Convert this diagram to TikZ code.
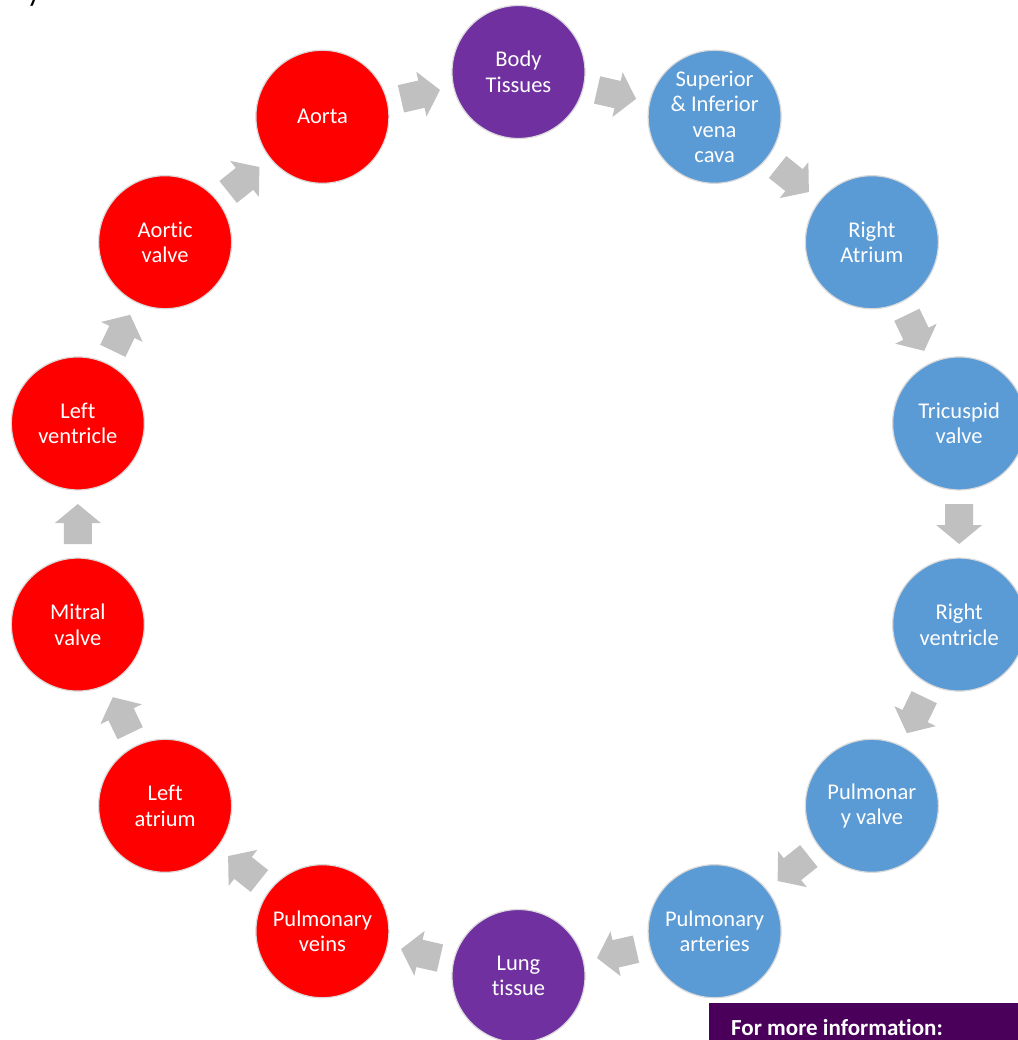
\documentclass[tikz,border=0pt]{standalone}
\usepackage{fontspec}
\setmainfont{Carlito}[Ligatures=NoCommon]
\usetikzlibrary{calc}
\definecolor{cpurple}{RGB}{112,48,160}
\definecolor{cblue}{RGB}{91,155,213}
\definecolor{cred}{RGB}{255,0,0}
\definecolor{carrow}{RGB}{192,192,192}
\definecolor{cbox}{RGB}{74,0,90}
\begin{document}
\begin{tikzpicture}[x=1pt,y=-1pt,
  stage/.style={circle, minimum size=133pt, inner sep=0pt, draw=black!15, line width=1.2pt,
    text=white, align=center, font=\fontsize{22.5}{25.5}\selectfont},
  blockarrow/.pic={\fill[carrow] (-20,-14) -- (1,-14) -- (1,-23) -- (20,0) -- (1,23) -- (1,14) -- (-20,14) -- cycle;}]
\useasboundingbox (0,0) rectangle (1017,1040);
\fill[white] (0,0) rectangle (1017,1040);
\coordinate (O) at (518.5,524);
\foreach \i/\col/\txt in {
  0/cpurple/{Body\\Tissues},
  1/cblue/{Superior\\\& Inferior\\vena\\cava},
  2/cblue/{Right\\Atrium},
  3/cblue/{Tricuspid\\valve},
  4/cblue/{Right\\ventricle},
  5/cblue/{Pulmonar\\y valve},
  6/cblue/{Pulmonary\\arteries},
  7/cpurple/{Lung\\tissue},
  8/cred/{Pulmonary\\veins},
  9/cred/{Left\\atrium},
  10/cred/{Mitral\\valve},
  11/cred/{Left\\ventricle},
  12/cred/{Aortic\\valve},
  13/cred/{Aorta}}{
  \node[stage, fill=\col] (n\i) at ($(O)+({-90+\i*25.7142857}:452)$) {\txt};
}
\foreach \i in {0,...,13}{
  \pgfmathtruncatemacro{\j}{mod(\i+1,14)}
  \path (n\i.center) -- pic[sloped, allow upside down] {blockarrow} (n\j.center);
}
\node[fill=cbox, anchor=north west, minimum width=320pt, minimum height=60pt, inner sep=0pt] (infobox) at (709,1003) {};
\node[anchor=base west, inner sep=0pt, text=white, font=\bfseries\fontsize{23}{27}\selectfont] (info) at (731,1035) {For more information:};
\node[anchor=base west, inner sep=0pt, font=\fontsize{30}{30}\selectfont] (frag) at (27,2) {y};
\end{tikzpicture}
\end{document}
